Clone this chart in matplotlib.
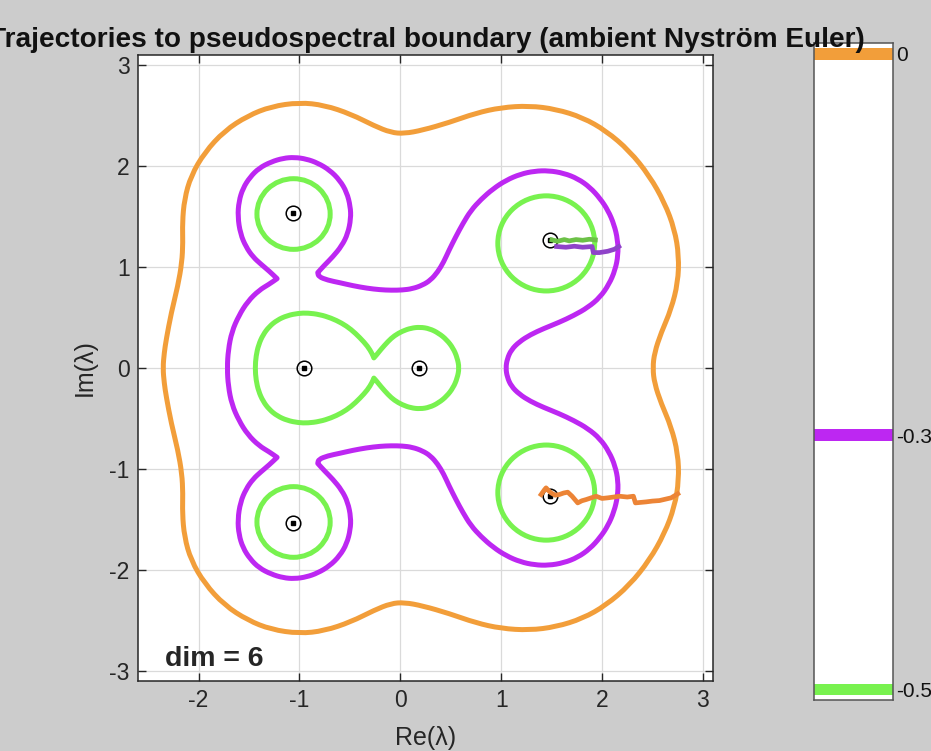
import numpy as np
import matplotlib
matplotlib.use('Agg')
from matplotlib import pyplot as plt
from matplotlib.patches import Ellipse, PathPatch
from matplotlib.path import Path

plt.rcParams['font.family'] = ['Liberation Sans', 'DejaVu Sans']
plt.rcParams['axes.unicode_minus'] = False

# eigenvalues (real matrix, conjugate pairs)
eig_re = [-1.066, -1.066, -0.950, 0.188, 1.487, 1.487]
eig_im = [1.533, -1.533, 0.0, 0.0, 1.269, -1.269]

# log10(eps) levels and their colours
levels = [0.0, -0.3, -0.5]
lev_colors = ['#f29e3a', '#bd27f2', '#78f24f']

# upper halves of the boundaries, the lower halves are their mirror images
orange_x = [-2.353, -2.34, -2.32, -2.27, -2.205, -2.165, -2.155, -2.16, -2.14, -2.075,
            -1.94, -1.743, -1.512, -1.28, -1.0, -0.752, -0.488, -0.257, -0.092, 0.04,
            0.219, 0.483, 0.748, 1.0, 1.278, 1.543, 1.808, 2.04, 2.272, 2.47,
            2.619, 2.719, 2.762, 2.752, 2.685, 2.586, 2.52, 2.503]
orange_y = [0.0, 0.15, 0.284, 0.548, 0.813, 1.044, 1.242, 1.44, 1.672, 1.903,
            2.134, 2.349, 2.498, 2.59, 2.63, 2.603, 2.514, 2.398, 2.332, 2.322,
            2.355, 2.431, 2.524, 2.58, 2.597, 2.564, 2.481, 2.349, 2.151, 1.903,
            1.639, 1.374, 1.11, 0.846, 0.581, 0.35, 0.152, 0.0]

purple_x = [-1.716, -1.705, -1.67, -1.60, -1.512, -1.40, -1.30, -1.221, -1.30, -1.38,
            -1.46, -1.53, -1.585, -1.611, -1.60, -1.56, -1.49, -1.40, -1.28, -1.16,
            -1.049, -0.93, -0.818, -0.70, -0.60, -0.53, -0.495, -0.49, -0.52, -0.58,
            -0.67, -0.75, -0.818, -0.81, -0.72, -0.60, -0.47, -0.33, -0.20, -0.09,
            0.02, 0.12, 0.22, 0.30, 0.37, 0.43, 0.48, 0.55, 0.62, 0.70,
            0.80, 0.92, 1.05, 1.19, 1.33, 1.47, 1.62, 1.76, 1.88, 1.98,
            2.06, 2.12, 2.155, 2.16, 2.13, 2.07, 1.98, 1.86, 1.72, 1.57,
            1.42, 1.29, 1.18, 1.10, 1.06, 1.046]
purple_y = [0.0, 0.18, 0.36, 0.52, 0.66, 0.77, 0.83, 0.885, 0.96, 1.027,
            1.10, 1.20, 1.33, 1.50, 1.65, 1.78, 1.89, 1.98, 2.042, 2.078,
            2.087, 2.07, 2.03, 1.96, 1.86, 1.74, 1.60, 1.48, 1.33, 1.21,
            1.10, 1.02, 0.945, 0.905, 0.87, 0.845, 0.815, 0.79, 0.775, 0.77,
            0.772, 0.785, 0.82, 0.87, 0.95, 1.05, 1.16, 1.30, 1.43, 1.56,
            1.67, 1.775, 1.86, 1.92, 1.95, 1.955, 1.93, 1.875, 1.79, 1.68,
            1.56, 1.42, 1.27, 1.12, 0.97, 0.83, 0.70, 0.60, 0.52, 0.45,
            0.39, 0.33, 0.26, 0.18, 0.09, 0.0]
purple_kinks = [7, 32]

peanut_x = [-1.439, -1.43, -1.405, -1.36, -1.30, -1.22, -1.12, -1.01, -0.917, -0.80,
            -0.686, -0.58, -0.488, -0.40, -0.323, -0.278, -0.262, -0.235, -0.191, -0.12,
            -0.059, 0.02, 0.106, 0.196, 0.29, 0.38, 0.46, 0.525, 0.565, 0.584]
peanut_y = [0.0, 0.12, 0.23, 0.33, 0.41, 0.475, 0.52, 0.542, 0.545, 0.53,
            0.495, 0.445, 0.383, 0.30, 0.215, 0.14, 0.10, 0.13, 0.185, 0.265,
            0.32, 0.365, 0.395, 0.405, 0.39, 0.345, 0.28, 0.195, 0.10, 0.0]
peanut_kinks = [16]

# eps = 10^-0.5 discs around the complex pairs: centre x, centre y, radius x, radius y
disc_cx = [-1.058, -1.058, 1.447, 1.447]
disc_cy = [1.525, -1.525, 1.234, -1.234]
disc_rx = [0.363, 0.363, 0.480, 0.480]
disc_ry = [0.350, 0.350, 0.471, 0.471]

# trajectories of the walker for each level
traj_g_x = [1.503, 1.56, 1.626, 1.675, 1.742, 1.808, 1.874, 1.934]
traj_g_y = [1.269, 1.255, 1.272, 1.259, 1.272, 1.265, 1.275, 1.269]
traj_p_x = [1.55, 1.642, 1.725, 1.808, 1.901, 1.914, 1.974, 2.056, 2.123, 2.166]
traj_p_y = [1.203, 1.196, 1.206, 1.196, 1.203, 1.143, 1.143, 1.156, 1.176, 1.203]
traj_o_x = [1.396, 1.43, 1.445, 1.47, 1.495, 1.535, 1.577, 1.62, 1.660, 1.703, 1.759,
            1.80, 1.842, 1.941, 2.0, 2.057, 2.173, 2.25, 2.311, 2.331, 2.437,
            2.50, 2.569, 2.685, 2.751]
traj_o_y = [-1.253, -1.205, -1.187, -1.215, -1.237, -1.26, -1.253, -1.238, -1.230, -1.270, -1.336,
            -1.315, -1.303, -1.270, -1.292, -1.286, -1.270, -1.278, -1.270, -1.336, -1.326,
            -1.318, -1.313, -1.286, -1.246]


def closed(xs, ys, kinks=()):
    # full loop = upper half + mirrored lower half (axis points not repeated)
    xs = np.asarray(xs)
    ys = np.asarray(ys)
    n = len(xs)
    x = np.concatenate([xs, xs[-2:0:-1]])
    y = np.concatenate([ys, -ys[-2:0:-1]])
    k = list(kinks) + [2*n - 2 - i for i in kinks]
    return x, y, k


def smooth_loop(x, y, kinks=()):
    # quadratic b-spline style path, vertices are the control points
    pts = np.column_stack([x, y])
    n = len(pts)
    verts = [(pts[-1] + pts[0]) / 2]
    codes = [Path.MOVETO]
    for i in range(n):
        mid = (pts[i] + pts[(i + 1) % n]) / 2
        verts += [pts[i], mid]
        if i in kinks:
            codes += [Path.LINETO, Path.LINETO]
        else:
            codes += [Path.CURVE3, Path.CURVE3]
    verts.append(verts[0])
    codes.append(Path.CLOSEPOLY)
    return Path(verts, codes)


fig = plt.figure(figsize=(9.31, 7.51), dpi=100, facecolor='#cccccc')
ax = fig.add_axes([138/931, 1-681/751, 575/931, 626/751])
ax.set_facecolor('white')

lw = 3.6
for xs, ys, kk, col in [(orange_x, orange_y, [], lev_colors[0]),
                        (purple_x, purple_y, purple_kinks, lev_colors[1]),
                        (peanut_x, peanut_y, peanut_kinks, lev_colors[2])]:
    x, y, k = closed(xs, ys, kk)
    ax.add_patch(PathPatch(smooth_loop(x, y, k), fill=False, edgecolor=col,
                           lw=lw, joinstyle='round', zorder=3))
for cx, cy, rx, ry in zip(disc_cx, disc_cy, disc_rx, disc_ry):
    ax.add_patch(Ellipse((cx, cy), 2*rx, 2*ry, fill=False,
                         edgecolor=lev_colors[2], lw=lw, zorder=3))

# eigenvalues
ax.plot(eig_re, eig_im, 'o', ms=10.5, mfc='none', mec='black', mew=1.1, zorder=4)
ax.plot(eig_re, eig_im, 's', ms=3.2, color='black', zorder=4)

ax.plot(traj_g_x, traj_g_y, color='#6cc147', lw=3.4, zorder=5)
ax.plot(traj_p_x, traj_p_y, color='#8f43c9', lw=3.4, zorder=5)
ax.plot(traj_o_x, traj_o_y, color='#ec8436', lw=3.4, zorder=5)

ax.text(-2.33, -2.953, 'dim = 6', fontsize=20.5, fontweight='bold',
        color='#262626', va='baseline', zorder=6)

ax.set_xlim(-2.6, 3.1)
ax.set_ylim(-3.1, 3.1)
ax.set_xticks(np.arange(-2, 4))
ax.set_yticks(np.arange(-3, 4))
ax.grid(color='#dadada', lw=0.9)
ax.set_axisbelow(True)
ax.tick_params(direction='in', length=6, width=1, top=True, right=True,
               labelsize=16.5, colors='#262626', pad=6)
for s in ax.spines.values():
    s.set_color('#262626')
    s.set_linewidth(1.1)
ax.set_xlabel('Re(λ)', fontsize=18, color='#262626', va='center')
ax.set_ylabel('Im(λ)', fontsize=18, color='#262626', va='center')
ax.xaxis.set_label_coords(0.5, -0.091)
ax.yaxis.set_label_coords(-0.092, 0.5)

fig.text(427/931, 1-47/751,
         'Trajectories to pseudospectral boundary (ambient Nyström Euler)',
         ha='center', va='baseline', fontsize=20.2, fontweight='bold', color='#111111')

# colorbar showing the contour levels
cax = fig.add_axes([814/931, 1-700/751, 79/931, 657/751])
cax.set_facecolor('white')
cax.set_xlim(0, 1)
cax.set_ylim(-0.5083, 0.0084)
for lev, col in zip(levels, lev_colors):
    cax.axhspan(lev - 0.0046, lev + 0.0046, color=col, lw=0)
cax.set_xticks([])
cax.yaxis.tick_right()
cax.set_yticks(levels)
cax.set_yticklabels(['0', '-0.3', '-0.5'])
cax.tick_params(length=0, pad=2, labelsize=15, colors='#111111')
for s in cax.spines.values():
    s.set_color('#555555')
    s.set_linewidth(1.1)

fig.savefig('out.png', dpi=100, facecolor=fig.get_facecolor())
